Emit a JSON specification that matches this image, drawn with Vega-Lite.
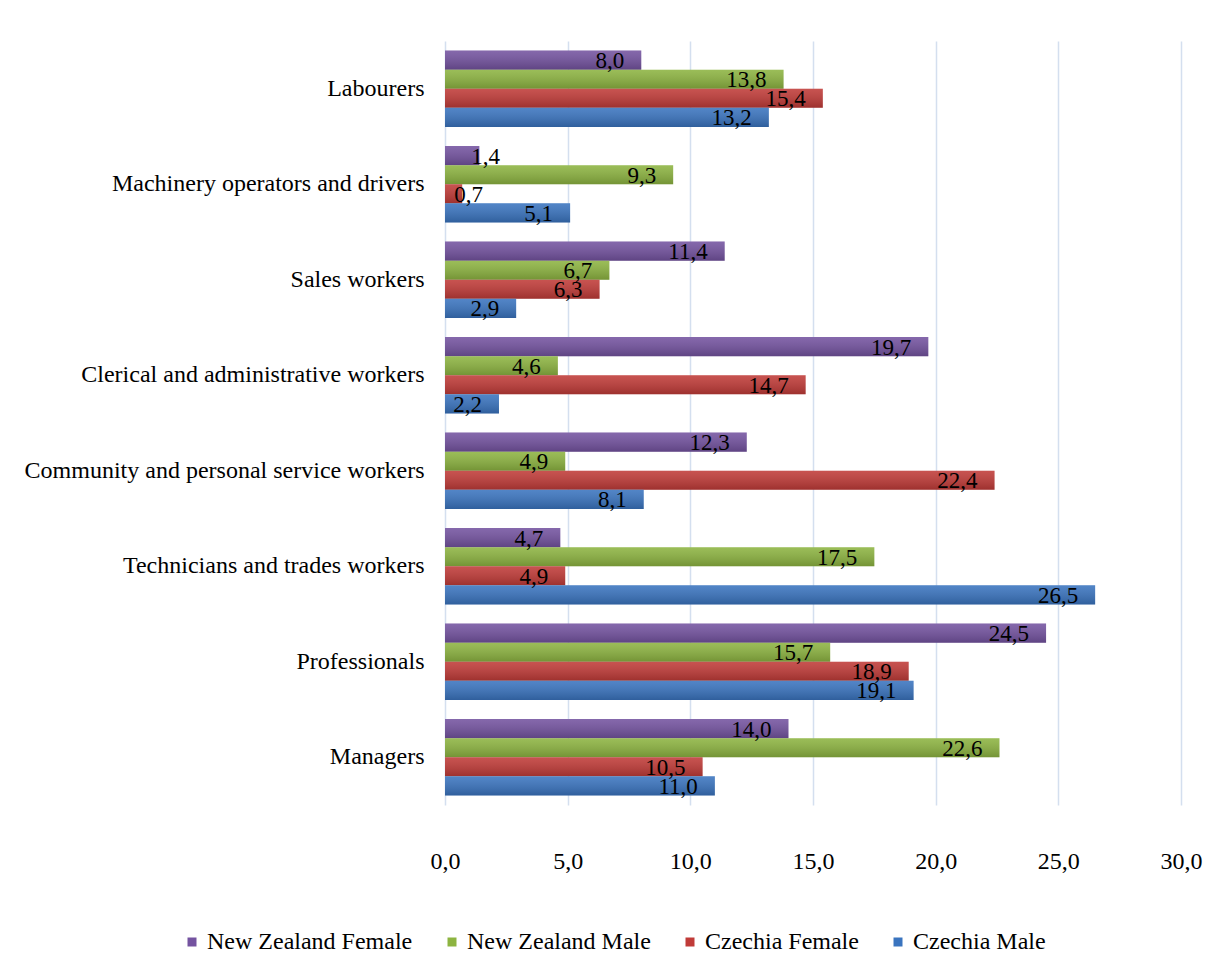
{
  "$schema": "https://vega.github.io/schema/vega-lite/v6.json",
  "width": 736,
  "height": 764,
  "autosize": {"type": "none"},
  "padding": {"left": 445, "top": 41, "right": 34, "bottom": 169},
  "config": {
    "view": {"stroke": null},
    "font": "Liberation Serif",
    "locale": {"number": {"decimal": ",", "thousands": ".", "grouping": [3], "currency": ["", " Kč"]}}
  },
  "data": {
    "values": [
      {"category": "Labourers", "series": "New Zealand Female", "value": 8.0},
      {"category": "Labourers", "series": "New Zealand Male", "value": 13.8},
      {"category": "Labourers", "series": "Czechia Female", "value": 15.4},
      {"category": "Labourers", "series": "Czechia Male", "value": 13.2},
      {"category": "Machinery operators and drivers", "series": "New Zealand Female", "value": 1.4},
      {"category": "Machinery operators and drivers", "series": "New Zealand Male", "value": 9.3},
      {"category": "Machinery operators and drivers", "series": "Czechia Female", "value": 0.7},
      {"category": "Machinery operators and drivers", "series": "Czechia Male", "value": 5.1},
      {"category": "Sales workers", "series": "New Zealand Female", "value": 11.4},
      {"category": "Sales workers", "series": "New Zealand Male", "value": 6.7},
      {"category": "Sales workers", "series": "Czechia Female", "value": 6.3},
      {"category": "Sales workers", "series": "Czechia Male", "value": 2.9},
      {"category": "Clerical and administrative workers", "series": "New Zealand Female", "value": 19.7},
      {"category": "Clerical and administrative workers", "series": "New Zealand Male", "value": 4.6},
      {"category": "Clerical and administrative workers", "series": "Czechia Female", "value": 14.7},
      {"category": "Clerical and administrative workers", "series": "Czechia Male", "value": 2.2},
      {"category": "Community and personal service workers", "series": "New Zealand Female", "value": 12.3},
      {"category": "Community and personal service workers", "series": "New Zealand Male", "value": 4.9},
      {"category": "Community and personal service workers", "series": "Czechia Female", "value": 22.4},
      {"category": "Community and personal service workers", "series": "Czechia Male", "value": 8.1},
      {"category": "Technicians and trades workers", "series": "New Zealand Female", "value": 4.7},
      {"category": "Technicians and trades workers", "series": "New Zealand Male", "value": 17.5},
      {"category": "Technicians and trades workers", "series": "Czechia Female", "value": 4.9},
      {"category": "Technicians and trades workers", "series": "Czechia Male", "value": 26.5},
      {"category": "Professionals", "series": "New Zealand Female", "value": 24.5},
      {"category": "Professionals", "series": "New Zealand Male", "value": 15.7},
      {"category": "Professionals", "series": "Czechia Female", "value": 18.9},
      {"category": "Professionals", "series": "Czechia Male", "value": 19.1},
      {"category": "Managers", "series": "New Zealand Female", "value": 14.0},
      {"category": "Managers", "series": "New Zealand Male", "value": 22.6},
      {"category": "Managers", "series": "Czechia Female", "value": 10.5},
      {"category": "Managers", "series": "Czechia Male", "value": 11.0}
    ]
  },
  "encoding": {
    "y": {
      "field": "category",
      "type": "nominal",
      "sort": ["Labourers", "Machinery operators and drivers", "Sales workers", "Clerical and administrative workers", "Community and personal service workers", "Technicians and trades workers", "Professionals", "Managers"],
      "scale": {"paddingInner": 0.2, "paddingOuter": 0.1},
      "axis": {"title": null, "domain": false, "ticks": false, "labelPadding": 21, "labelFont": "Liberation Serif", "labelFontSize": 24, "labelColor": "#000000", "labelLimit": 0}
    },
    "yOffset": {
      "field": "series",
      "type": "nominal",
      "sort": ["New Zealand Female", "New Zealand Male", "Czechia Female", "Czechia Male"],
      "scale": {"paddingInner": 0, "paddingOuter": 0}
    },
    "x": {
      "field": "value",
      "type": "quantitative",
      "scale": {"domain": [0, 30], "nice": false},
      "axis": {"title": null, "values": [0, 5, 10, 15, 20, 25, 30], "format": ".1f", "domain": false, "ticks": false, "labelFlush": false, "labelOverlap": false, "labelPadding": 44, "labelFont": "Liberation Serif", "labelFontSize": 24, "labelColor": "#000000", "gridColor": "#D4DFEF", "gridWidth": 1.5}
    }
  },
  "layer": [
    {
      "mark": {"type": "bar"},
      "encoding": {
        "color": {
          "field": "series",
          "type": "nominal",
          "scale": {
            "domain": ["New Zealand Female", "New Zealand Male", "Czechia Female", "Czechia Male"],
            "range": ["#7453A0", "#8DB441", "#C03B38", "#3A74BF"]
          },
          "legend": {
            "title": null,
            "orient": "none",
            "legendX": -265,
            "legendY": 889,
            "direction": "horizontal",
            "symbolType": "square",
            "symbolSize": 81,
            "symbolStrokeWidth": 0,
            "labelFont": "Liberation Serif",
            "labelFontSize": 24,
            "labelColor": "#000000",
            "labelOffset": 3,
            "columnPadding": 27,
            "labelLimit": 0
          }
        }
      }
    },
    {
      "mark": {
        "type": "bar",
        "color": {
          "gradient": "linear",
          "x1": 0, "y1": 0, "x2": 0, "y2": 1,
          "stops": [
            {"offset": 0, "color": "rgba(255,255,255,0.12)"},
            {"offset": 1, "color": "rgba(0,0,0,0.18)"}
          ]
        }
      }
    },
    {
      "transform": [{"filter": "datum.value >= 2"}],
      "mark": {"type": "text", "align": "right", "baseline": "middle", "dx": -17, "dy": 1, "fontSize": 23, "font": "Liberation Serif", "color": "#000000"},
      "encoding": {"text": {"field": "value", "type": "quantitative", "format": ".1f"}}
    },
    {
      "transform": [{"filter": "datum.value < 2"}],
      "mark": {"type": "text", "align": "left", "baseline": "middle", "dx": -8, "dy": 1, "fontSize": 23, "font": "Liberation Serif", "color": "#000000"},
      "encoding": {"text": {"field": "value", "type": "quantitative", "format": ".1f"}}
    }
  ]
}
